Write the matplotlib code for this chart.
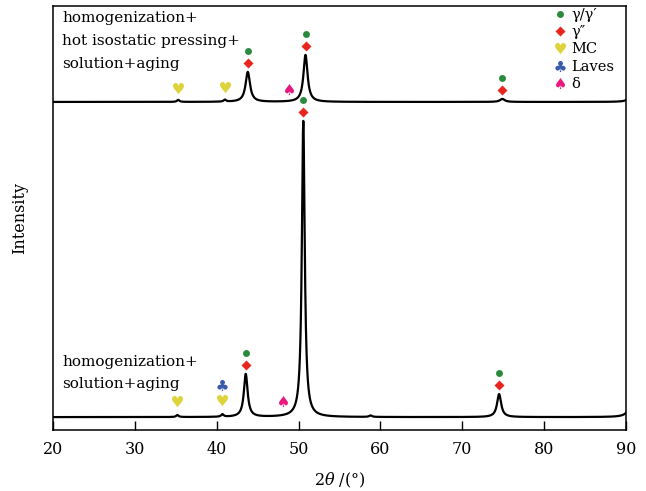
import numpy as np
import matplotlib.pyplot as plt
from matplotlib.lines import Line2D

plt.rcParams['font.family'] = 'DejaVu Serif'
plt.rcParams['mathtext.fontset'] = 'dejavuserif'

# XRD peak lists: position (deg 2theta), height above background (a.u.), FWHM (deg)
hip_pos = [35.3, 41.0, 43.8, 50.85, 74.9, 90.9]
hip_height = [2.0, 2.0, 30.0, 47.0, 3.0, 25.0]
hip_fwhm = [0.35, 0.35, 0.65, 0.6, 0.7, 0.5]
hip_background = 328.0

sa_pos = [35.2, 40.7, 43.55, 50.58, 58.8, 74.5, 90.9]
sa_height = [2.0, 2.5, 43.0, 296.0, 1.5, 23.0, 60.0]
sa_fwhm = [0.35, 0.35, 0.55, 0.42, 0.4, 0.6, 0.5]
sa_background = 13.0

# phase identification of the reflections
hip_gamma = [43.8, 50.85, 74.9]
hip_mc = [35.3, 41.0]
hip_delta = [48.8]
sa_gamma = [43.55, 50.58, 74.5]
sa_mc = [35.2, 40.7]
sa_laves = [40.7]
sa_delta = [48.1]

hip_label = ['homogenization+', 'hot isostatic pressing+', 'solution+aging']
sa_label = ['homogenization+', 'solution+aging']


def pattern(x, pos, height, fwhm, background):
    y = np.full_like(x, background)
    for p, h, w in zip(pos, height, fwhm):
        y += h / (1 + ((x - p) / (w / 2)) ** 2)
    return y


two_theta = np.linspace(20, 90, 3501)
hip = pattern(two_theta, hip_pos, hip_height, hip_fwhm, hip_background)
sa = pattern(two_theta, sa_pos, sa_height, sa_fwhm, sa_background)

green = '#2b8a3e'
red = '#e8261e'
yellow = '#ddd43c'
blue = '#3a5aaa'
pink = '#e8187c'
heart = r'$♥$'
club = r'$♣$'
spade = r'$♠$'

fig = plt.figure(figsize=(6.46, 4.91), dpi=100)
ax = fig.add_axes([0.082, 0.124, 0.887, 0.864])

ax.plot(two_theta, hip, color='black', lw=1.6)
ax.plot(two_theta, sa, color='black', lw=1.6)


def mark(xs, curve, offset, marker, color, size):
    xs = np.asarray(xs)
    ys = np.interp(xs, two_theta, curve) + offset
    ax.plot(xs, ys, ls='none', marker=marker, color=color, ms=size, mec='none')


for curve, gam in ((hip, hip_gamma), (sa, sa_gamma)):
    mark(gam, curve, 9, 'D', red, 5.5)
    mark(gam, curve, 21, 'o', green, 5)

mark(hip_mc, hip, 12, heart, yellow, 8)
mark(hip_delta, hip, 12, spade, pink, 8)
mark(sa_mc, sa, 14, heart, yellow, 8)
mark(sa_laves, sa, 29, club, blue, 8)
mark(sa_delta, sa, 14, spade, pink, 8)

for i, line in enumerate(hip_label):
    ax.text(0.016, 0.972 - i * 0.054, line, transform=ax.transAxes,
            fontsize=11, va='center', ha='left')
for i, line in enumerate(sa_label):
    ax.text(0.016, 0.161 - i * 0.052, line, transform=ax.transAxes,
            fontsize=11, va='center', ha='left')

handles = [
    Line2D([], [], ls='none', marker='o', color=green, ms=5, mec='none'),
    Line2D([], [], ls='none', marker='D', color=red, ms=5.5, mec='none'),
    Line2D([], [], ls='none', marker=heart, color=yellow, ms=8, mec='none'),
    Line2D([], [], ls='none', marker=club, color=blue, ms=8, mec='none'),
    Line2D([], [], ls='none', marker=spade, color=pink, ms=8, mec='none'),
]
labels = ['γ/γ′', 'γ″', 'MC', 'Laves', 'δ']
ax.legend(handles, labels, loc='upper left', bbox_to_anchor=(0.87, 1.0),
          frameon=False, fontsize=10.5, handlelength=0.8, handletextpad=0.4,
          labelspacing=0.22, borderpad=0.15, borderaxespad=0)

ax.set_xlim(20, 90)
ax.set_ylim(0, 424)
ax.set_xticks(range(20, 91, 10))
ax.set_yticks([])
ax.tick_params(axis='x', direction='in', length=6.5, width=1, labelsize=11.5, pad=8)
for s in ax.spines.values():
    s.set_linewidth(1.1)

ax.set_xlabel(r'$2\theta$ /(°)', fontsize=11.5, labelpad=9)
ax.set_ylabel('Intensity', fontsize=11.5, labelpad=18)

fig.savefig('out.png', dpi=100)
